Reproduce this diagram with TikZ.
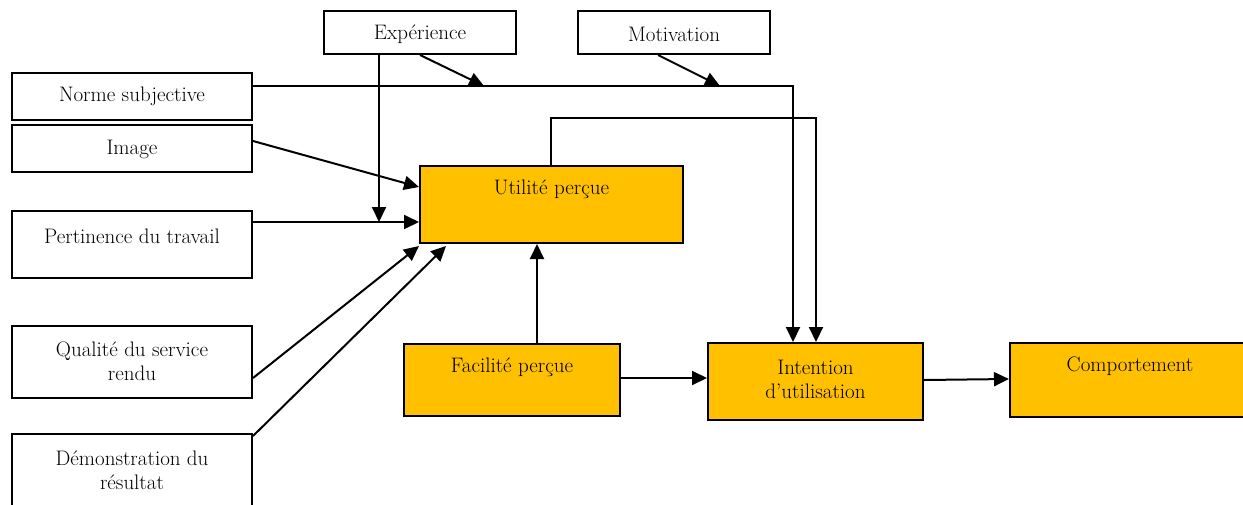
\documentclass[tikz,border=0pt]{standalone}
\usepackage{fontspec}
\usetikzlibrary{arrows.meta,calc}
\definecolor{gold}{HTML}{FFC000}
\begin{document}
\begin{tikzpicture}[x=1pt,y=-1pt,
  box/.style={draw=black,line width=2pt,inner sep=0pt,rectangle},
  wbox/.style={box,fill=white},
  gbox/.style={box,fill=gold},
  txt/.style={font=\fontsize{21}{24}\selectfont,align=center,inner sep=0pt},
  conn/.style={line width=2pt,-{Triangle[length=15pt,width=14pt]}}]
\clip (0,0) rectangle (1243,504);
\useasboundingbox (0,0) rectangle (1243,504);

% input factors
\node[wbox,minimum width=192,minimum height=43] (exp) at (420,32.5) {};
\node[txt] at (420,34) {Expérience};
\node[wbox,minimum width=192,minimum height=43] (mot) at (674,32.5) {};
\node[txt] at (674,34) {Motivation};
\node[wbox,minimum width=240,minimum height=47] (norme) at (132,96.5) {};
\node[txt] at (132,96) {Norme subjective};
\node[wbox,minimum width=240,minimum height=47] (img) at (132,148.5) {};
\node[txt] at (132,149) {Image};
\node[wbox,minimum width=240,minimum height=67] (pert) at (132,244.5) {};
\node[txt] at (132,236) {Pertinence du travail};
\node[wbox,minimum width=240,minimum height=72] (qual) at (132,362) {};
\node[txt] at (132,361) {Qualité du service\\rendu};
\node[wbox,minimum width=240,minimum height=80] (demo) at (132,474) {};
\node[txt] at (132,470) {Démonstration du\\résultat};

% core constructs
\node[gbox,minimum width=263,minimum height=77] (util) at (551.5,204.5) {};
\node[txt] at (551.5,189) {Utilité perçue};
\node[gbox,minimum width=216,minimum height=72] (fac) at (512,380) {};
\node[txt] at (512,367) {Facilité perçue};
\node[gbox,minimum width=215,minimum height=77] (intent) at (815.5,381.5) {};
\node[txt] at (815.5,379) {Intention\\d’utilisation};
\node[gbox,minimum width=240,minimum height=74] (comp) at (1130,380) {};
\node[txt] at (1130,366) {Comportement};

% subjective norm to intention, with moderators
\coordinate (nstart) at ($(norme.east)+(0,-10.5)$);
\coordinate (nbend) at ($(intent.north)+(-22.5,0)$);
\draw[conn] (nstart) -- (nstart -| nbend) -- (nbend);
\coordinate (eend) at (484,86);
\coordinate (mend) at (720,86);
\draw[conn] (exp.south) -- (eend);
\draw[conn] ($(mot.south)+(-16,0)$) -- (mend);

% experience on relevance
\coordinate (pline) at (379,222);
\draw[conn] ($(exp.south)+(-41,0)$) -- (pline);

% usefulness to intention
\coordinate (ustart) at ($(util.north)+(-0.5,0)$);
\coordinate (ubend) at ($(intent.north)+(0.5,0)$);
\draw[conn] (ustart) -- ++(0,-47) -| (ubend);

% determinants of usefulness
\draw[conn] ($(img.east)+(0,-7.5)$) -- ($(util.west)+(0,-17.5)$);
\draw[conn] ($(pert.east)+(0,-22.5)$) -- ($(util.west)+(0,17.5)$);
\draw[conn] ($(qual.east)+(0,16)$) -- ($(util.south west)+(0,2)$);
\draw[conn] ($(demo.north east)+(0,3)$) -- ($(util.south west)+(27,2)$);
\draw[conn] ($(fac.north)+(25,0)$) -- ($(util.south)+(-14.5,0)$);

% ease to intention, intention to behaviour
\draw[conn] ($(fac.east)+(0,-2)$) -- ($(intent.west)+(0,-3.5)$);
\draw[conn] ($(intent.east)+(0,-1.5)$) -- ($(comp.west)+(0,-1)$);
\end{tikzpicture}
\end{document}
